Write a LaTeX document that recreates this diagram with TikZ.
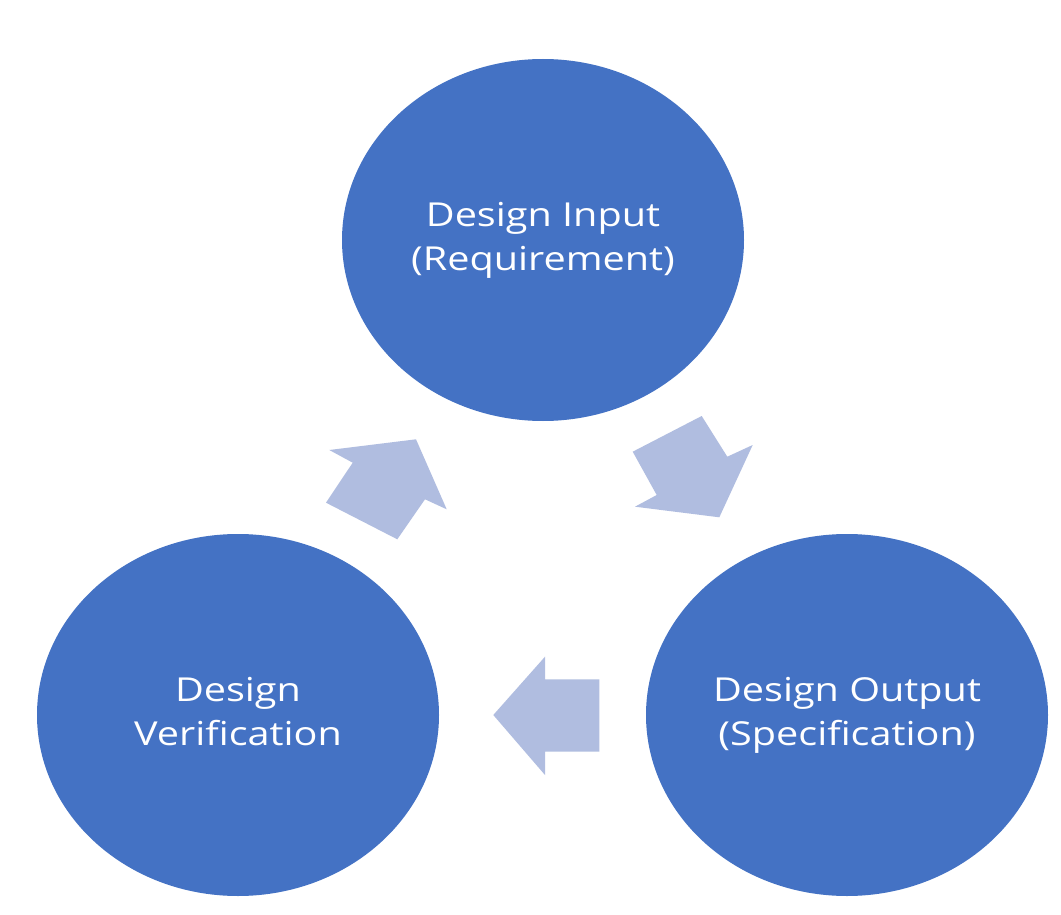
\documentclass[tikz,border=0pt]{standalone}
\usepackage{fontspec}
\setmainfont{Open Sans}
\usepackage{graphicx}
\usetikzlibrary{shapes.geometric}
\definecolor{circblue}{HTML}{4472C4}
\definecolor{arrowblue}{RGB}{176,189,224}
\tikzset{
  phase/.style={ellipse, fill=circblue, draw=none, inner sep=0pt,
    minimum width=402pt, minimum height=362pt, text=white,
    font=\fontsize{33}{44}\selectfont},
  blockarrow/.style={fill=arrowblue, draw=none}
}
\newcommand{\phasetext}[1]{\scalebox{1.2}[1]{\begin{tabular}{@{}c@{}}#1\end{tabular}}}
\begin{document}
\begin{tikzpicture}[x=1pt,y=-1pt]
\useasboundingbox (0,0) rectangle (1061,915);
\fill[white] (0,0) rectangle (1061,915);

\node[phase] (input) at (543,240) {\phasetext{Design Input\\(Requirement)}};
\node[phase] (verif) at (238,715) {\phasetext{Design\\Verification}};
\node[phase] (output) at (847,715) {\phasetext{Design Output\\(Specification)}};

% arrow: verification -> input
\fill[blockarrow] (329.3,450) -- (416,439.3) -- (446.7,509.3) -- (425,499.3)
  -- (397.3,539.3) -- (326,502.7) -- (352.7,462.7) -- cycle;
% arrow: input -> output
\fill[blockarrow] (701.7,416) -- (727.3,456.7) -- (752.7,445) -- (719.3,517.3)
  -- (635,506.7) -- (656.7,495) -- (632.7,451.7) -- cycle;
% arrow: output -> verification
\fill[blockarrow] (493.3,715) -- (545,656.7) -- (545,679.3) -- (599.3,679.3)
  -- (599.3,751.7) -- (545,751.7) -- (545,775) -- cycle;
\end{tikzpicture}
\end{document}
